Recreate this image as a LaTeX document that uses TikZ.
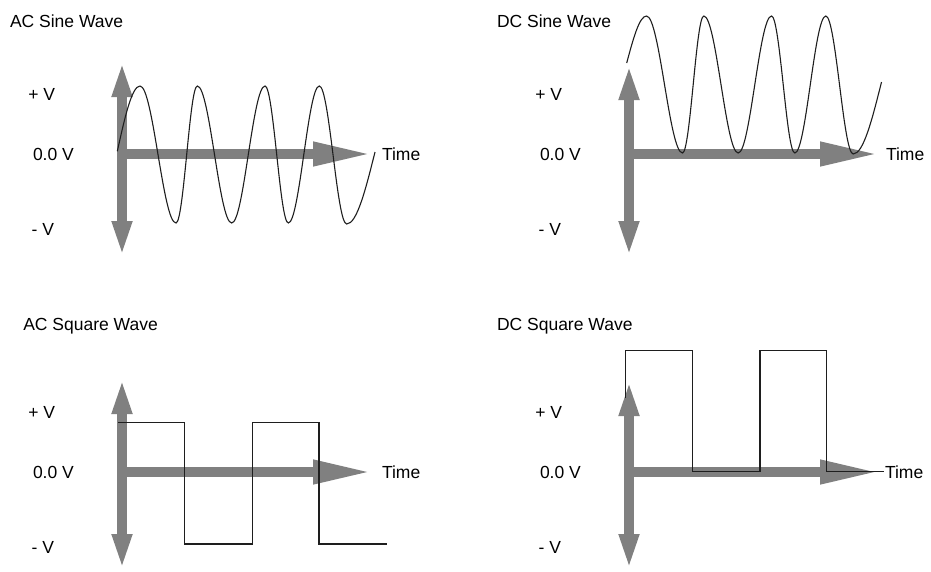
\documentclass[tikz,border=0pt]{standalone}
\usepackage{fontspec}
\setmainfont{Liberation Sans}
\usetikzlibrary{arrows.meta}
\definecolor{axisgray}{RGB}{128,128,128}
\definecolor{wavecol}{RGB}{30,30,30}
\begin{document}
\begin{tikzpicture}[x=1pt,y=-1pt,
  lbl/.style={anchor=base west, inner sep=0pt, outer sep=0pt, font=\fontsize{17.5}{20}\selectfont},
  vaxis/.style={draw=axisgray, line width=10pt, {Triangle[length=36pt,width=18pt]}-{Triangle[length=36pt,width=18pt]}},
  haxis/.style={draw=axisgray, line width=10pt, -{Triangle[length=60pt,width=22pt]}},
  wave/.style={draw=wavecol, line width=1.1pt, line join=miter}]
\useasboundingbox (0,0) rectangle (931,571);

% ---------- AC Sine Wave ----------
\node[lbl] (t1) at (10,27.7) {AC Sine Wave};
\node[lbl] (p1) at (28.3,100) {+ V};
\node[lbl] (z1) at (33,160.7) {0.0 V};
\node[lbl] (m1) at (31.7,235) {- V};
\coordinate (v1top) at (122,61);
\coordinate (v1bot) at (122,257);
\coordinate (o1) at (122,154);
\coordinate (h1end) at (373,154);
\node[lbl] (time1) at (382,160.7) {Time};
\draw[vaxis] (v1bot) -- (v1top);
\draw[haxis] (o1) -- (h1end);
\draw[wave] (117.3,151.3) sin (140,86) cos (158,154.5) sin (176,223) cos (186.7,154.5)
  sin (197.3,86) cos (214.5,154.5) sin (231.7,223) cos (248.3,154.5)
  sin (265,86) cos (276.7,154.5) sin (288.3,223) cos (303.8,154.5)
  sin (319.3,86) cos (333,154.5) sin (346.7,224) cos (375,152);

% ---------- DC Sine Wave ----------
\node[lbl] (t2) at (497,27.7) {DC Sine Wave};
\node[lbl] (p2) at (535.3,100) {+ V};
\node[lbl] (z2) at (540,160.7) {0.0 V};
\node[lbl] (m2) at (538.7,235) {- V};
\coordinate (v2top) at (629,64);
\coordinate (v2bot) at (629,257);
\coordinate (o2) at (629,154);
\coordinate (h2end) at (880,154);
\node[lbl] (time2) at (886,160.7) {Time};
\draw[vaxis] (v2bot) -- (v2top);
\draw[haxis] (o2) -- (h2end);
\draw[wave] (626.7,63) sin (646.5,16) cos (664.5,84.5) sin (682.5,153) cos (693.2,84.5)
  sin (703.8,16) cos (721,84.5) sin (738.2,153) cos (754.8,84.5)
  sin (771.5,16) cos (783.2,84.5) sin (794.8,153) cos (810.3,84.5)
  sin (825.8,16) cos (839.5,84.5) sin (853.2,154) cos (881.5,82);

% ---------- AC Square Wave ----------
\node[lbl] (t3) at (23.3,330) {AC Square Wave};
\node[lbl] (p3) at (28.3,418.3) {+ V};
\node[lbl] (z3) at (33,478.3) {0.0 V};
\node[lbl] (m3) at (31.7,553.3) {- V};
\coordinate (v3top) at (122,378);
\coordinate (v3bot) at (122,570);
\coordinate (o3) at (122,472);
\coordinate (h3end) at (373,472);
\node[lbl] (time3) at (382,478.3) {Time};
\draw[vaxis] (v3bot) -- (v3top);
\draw[haxis] (o3) -- (h3end);
\draw[wave] (118.3,422.7) -- (184.3,422.7) -- (184.3,544) -- (252.3,544) -- (252.3,422.7)
  -- (319,422.7) -- (319,544) -- (386.7,544);

% ---------- DC Square Wave ----------
\node[lbl] (t4) at (497,330) {DC Square Wave};
\node[lbl] (p4) at (535.3,418.3) {+ V};
\node[lbl] (z4) at (540,478.3) {0.0 V};
\node[lbl] (m4) at (538.7,553.3) {- V};
\coordinate (v4top) at (629,380);
\coordinate (v4bot) at (629,570);
\coordinate (o4) at (629,472);
\coordinate (h4end) at (880,472);
\node[lbl] (time4) at (885,478.3) {Time};
\draw[vaxis] (v4bot) -- (v4top);
\draw[haxis] (o4) -- (h4end);
\draw[wave] (625.7,398.3) -- (625.7,350.7) -- (692.7,350.7) -- (692.7,471.7) -- (760,471.7)
  -- (760,350.7) -- (826.7,350.7) -- (826.7,471.7) -- (884,471.7);
\end{tikzpicture}
\end{document}
